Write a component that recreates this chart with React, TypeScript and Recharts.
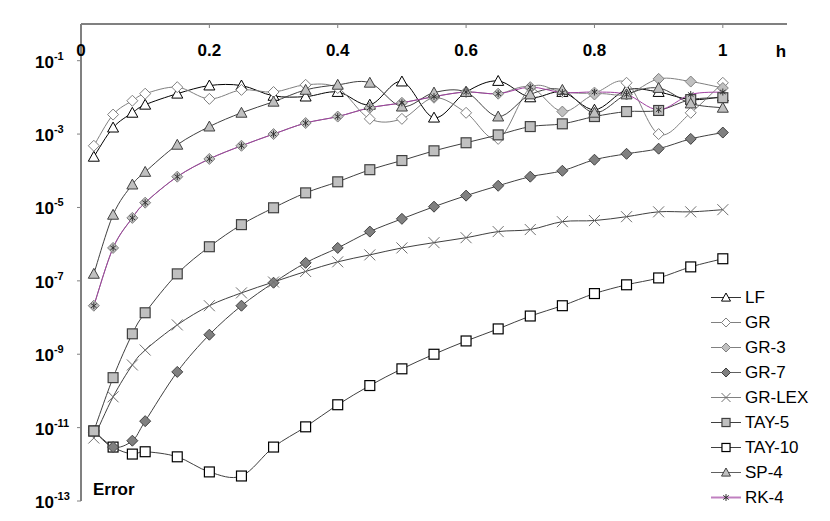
import { LineChart, Line, XAxis, YAxis, Legend } from "recharts"

const FONT = "'Liberation Sans', Arial, sans-serif"

// step sizes h
const hValues = [0.02, 0.05, 0.08, 0.1, 0.15, 0.2, 0.25, 0.3, 0.35, 0.4, 0.45, 0.5, 0.55, 0.6, 0.65, 0.7, 0.75, 0.8, 0.85, 0.9, 0.95, 1]

// error values per method
const lf = [2.4e-4, 1.5e-3, 3.8e-3, 6.3e-3, 1.26e-2, 2.1e-2, 2.1e-2, 1.1e-2, 1.05e-2, 1.4e-2, 6.3e-3, 2.7e-2, 2.8e-3, 1.4e-2, 2.8e-2, 1.0e-2, 1.4e-2, 4.6e-3, 1.6e-2, 1.4e-2, 8.7e-3, 1.05e-2]
const gr = [4.8e-4, 3.4e-3, 8.1e-3, 1.26e-2, 1.9e-2, 9.1e-3, 1.6e-2, 1.4e-2, 2.2e-2, 1.8e-2, 2.6e-3, 2.6e-3, 9.8e-3, 3.8e-3, 7.4e-4, 1.8e-2, 1.4e-2, 1.35e-2, 2.5e-2, 1.0e-3, 3.8e-3, 2.5e-2]
const gr3 = [2.1e-8, 7.9e-7, 5.2e-6, 1.35e-5, 6.9e-5, 2.1e-4, 4.8e-4, 1.0e-3, 2.0e-3, 3.0e-3, 5.2e-3, 7.1e-3, 1.05e-2, 1.4e-2, 1.26e-2, 1.9e-2, 4.1e-3, 1.2e-2, 1.2e-2, 3.2e-2, 2.7e-2, 1.8e-2]
const gr7 = [8.1e-12, 2.95e-12, 4.4e-12, 1.5e-11, 3.3e-10, 3.4e-9, 2.1e-8, 8.9e-8, 3.1e-7, 7.9e-7, 2.2e-6, 4.9e-6, 1.05e-5, 2.1e-5, 3.9e-5, 6.9e-5, 1.0e-4, 2.0e-4, 2.9e-4, 4.0e-4, 7.4e-4, 1.1e-3]
const grLex = [5.2e-12, 6.9e-11, 5.1e-10, 1.3e-9, 6.3e-9, 2.1e-8, 4.7e-8, 9.3e-8, 1.8e-7, 3.3e-7, 5.1e-7, 7.9e-7, 1.1e-6, 1.5e-6, 2.2e-6, 2.5e-6, 4.1e-6, 4.4e-6, 5.6e-6, 7.6e-6, 7.6e-6, 8.7e-6]
const tay5 = [8.1e-12, 2.3e-10, 3.6e-9, 1.35e-8, 1.55e-7, 8.5e-7, 3.4e-6, 9.8e-6, 2.5e-5, 5.0e-5, 1.07e-4, 1.9e-4, 3.5e-4, 5.8e-4, 9.5e-4, 1.6e-3, 1.9e-3, 3.0e-3, 4.1e-3, 4.4e-3, 8.7e-3, 9.8e-3]
const tay10 = [8.1e-12, 2.95e-12, 1.9e-12, 2.2e-12, 1.6e-12, 6.2e-13, 4.8e-13, 2.95e-12, 1.05e-11, 4.2e-11, 1.4e-10, 4.0e-10, 1.0e-9, 2.3e-9, 4.9e-9, 1.1e-8, 2.1e-8, 4.5e-8, 7.8e-8, 1.2e-7, 2.4e-7, 4.0e-7]
const sp4 = [1.55e-7, 6.3e-6, 4.2e-5, 9.3e-5, 5.1e-4, 1.6e-3, 3.8e-3, 7.6e-3, 1.6e-2, 2.2e-2, 2.5e-2, 5.6e-3, 1.35e-2, 1.4e-2, 3.0e-3, 1.2e-2, 1.6e-2, 3.8e-3, 1.2e-2, 1.8e-2, 6.8e-3, 5.2e-3]
const rk4 = [2.1e-8, 7.9e-7, 5.2e-6, 1.35e-5, 6.9e-5, 2.1e-4, 4.8e-4, 1.0e-3, 2.0e-3, 3.0e-3, 5.2e-3, 7.1e-3, 1.05e-2, 1.4e-2, 1.26e-2, 1.9e-2, 1.35e-2, 1.4e-2, 1.2e-2, 4.6e-3, 1.2e-2, 1.4e-2]

const xTicks = [0, 0.2, 0.4, 0.6, 0.8, 1]
const yTicks = [1e-13, 1e-11, 1e-9, 1e-7, 1e-5, 1e-3, 1e-1]

const data = hValues.map((h, i) => ({
  h,
  lf: lf[i],
  gr: gr[i],
  gr3: gr3[i],
  gr7: gr7[i],
  grLex: grLex[i],
  tay5: tay5[i],
  tay10: tay10[i],
  sp4: sp4[i],
  rk4: rk4[i],
}))

// legend order
const series = [
  { key: "lf", name: "LF", color: "#000000", legendColor: "#333", shape: "triangle", fill: "#ffffff", stroke: "#000000" },
  { key: "gr", name: "GR", color: "#808080", legendColor: "#808080", shape: "diamond", fill: "#ffffff", stroke: "#808080" },
  { key: "gr3", name: "GR-3", color: "#808080", legendColor: "#808080", shape: "diamond", fill: "#c0c0c0", stroke: "#808080" },
  { key: "gr7", name: "GR-7", color: "#404040", legendColor: "#606060", shape: "diamond", fill: "#808080", stroke: "#404040" },
  { key: "grLex", name: "GR-LEX", color: "#404040", legendColor: "#808080", shape: "x", fill: "none", stroke: "#707070" },
  { key: "tay5", name: "TAY-5", color: "#404040", legendColor: "#404040", shape: "square", fill: "#c0c0c0", stroke: "#404040" },
  { key: "tay10", name: "TAY-10", color: "#404040", legendColor: "#404040", shape: "square", fill: "#ffffff", stroke: "#000000" },
  { key: "sp4", name: "SP-4", color: "#404040", legendColor: "#606060", shape: "triangle", fill: "#c0c0c0", stroke: "#404040" },
  { key: "rk4", name: "RK-4", color: "#a040a0", legendColor: "#c080c0", shape: "star", fill: "none", stroke: "#333333" },
]

// plot order (TAY-10 sits underneath the others where they meet)
const drawOrder = ["tay10", "lf", "gr", "gr3", "gr7", "grLex", "tay5", "sp4", "rk4"]

// Excel-like smoothed line (catmull-rom through the points)
function excelSmooth(context: any) {
  let pts: number[][] = []
  return {
    areaStart() {},
    areaEnd() {},
    lineStart() {
      pts = []
    },
    point(x: number, y: number) {
      pts.push([+x, +y])
    },
    lineEnd() {
      if (!pts.length) return
      context.moveTo(pts[0][0], pts[0][1])
      const t = 1 / 6
      for (let i = 0; i < pts.length - 1; i++) {
        const p0 = pts[i - 1] || pts[i]
        const p1 = pts[i]
        const p2 = pts[i + 1]
        const p3 = pts[i + 2] || p2
        context.bezierCurveTo(
          p1[0] + (p2[0] - p0[0]) * t,
          p1[1] + (p2[1] - p0[1]) * t,
          p2[0] - (p3[0] - p1[0]) * t,
          p2[1] - (p3[1] - p1[1]) * t,
          p2[0],
          p2[1]
        )
      }
    },
  }
}

function Marker({ shape, cx, cy, fill, stroke, r }: any) {
  if (cx == null || cy == null) return null
  if (shape === "triangle") {
    return (
      <polygon
        points={`${cx},${cy - r} ${cx - r},${cy + r * 0.8} ${cx + r},${cy + r * 0.8}`}
        fill={fill}
        stroke={stroke}
        strokeWidth={1}
      />
    )
  }
  if (shape === "diamond") {
    return (
      <polygon
        points={`${cx},${cy - r} ${cx + r},${cy} ${cx},${cy + r} ${cx - r},${cy}`}
        fill={fill}
        stroke={stroke}
        strokeWidth={1}
      />
    )
  }
  if (shape === "square") {
    const s = r * 0.9
    return <rect x={cx - s} y={cy - s} width={s * 2} height={s * 2} fill={fill} stroke={stroke} strokeWidth={1.2} />
  }
  if (shape === "x") {
    return (
      <g stroke={stroke} strokeWidth={1}>
        <line x1={cx - r} y1={cy - r} x2={cx + r} y2={cy + r} />
        <line x1={cx - r} y1={cy + r} x2={cx + r} y2={cy - r} />
      </g>
    )
  }
  // asterisk
  const a = r * 0.7
  return (
    <g stroke={stroke} strokeWidth={1}>
      <line x1={cx} y1={cy - a} x2={cx} y2={cy + a} />
      <line x1={cx - a * 0.8} y1={cy - a * 0.6} x2={cx + a * 0.8} y2={cy + a * 0.6} />
      <line x1={cx - a * 0.8} y1={cy + a * 0.6} x2={cx + a * 0.8} y2={cy - a * 0.6} />
    </g>
  )
}

const XTick = ({ x, payload }: any) => (
  <g>
    <line x1={x} x2={x} y1={24} y2={28} stroke="#808080" />
    <text x={x} y={56} textAnchor="middle" fontFamily={FONT} fontSize={17} fontWeight="bold" fill="#000">
      {String(payload.value)}
    </text>
  </g>
)

const YTick = ({ y, payload }: any) => {
  const exp = Math.round(Math.log10(payload.value))
  return (
    <text x={35} y={y + 7} fontFamily={FONT} fontSize={17} fontWeight="bold" fill="#000">
      10
      <tspan fontSize={11} dy={-8}>
        {exp}
      </tspan>
    </text>
  )
}

const LegendContent = () => (
  <div style={{ fontFamily: FONT, fontSize: 17, color: "#000" }}>
    {series.map((s) => (
      <div key={s.key} style={{ display: "flex", alignItems: "center", height: 25 }}>
        <svg width={32} height={25}>
          <line x1={0} x2={30} y1={12.5} y2={12.5} stroke={s.legendColor} strokeWidth={s.key === "rk4" ? 2 : 1} />
          <Marker shape={s.shape} cx={15} cy={12.5} fill={s.fill} stroke={s.stroke} r={s.shape === "star" ? 5 : 4.5} />
        </svg>
        <span style={{ marginLeft: 2 }}>{s.name}</span>
      </div>
    ))}
  </div>
)

export default function App() {
  return (
    <div style={{ position: "absolute", left: 0, top: 0, width: 830, height: 521, background: "#fff" }}>
      <LineChart width={830} height={521} data={data} margin={{ top: 0, right: 43, bottom: 20, left: 0 }}>
        <XAxis
          dataKey="h"
          type="number"
          orientation="top"
          domain={[0, 1.1]}
          ticks={xTicks}
          height={24}
          axisLine={{ stroke: "#808080", strokeWidth: 2 }}
          tickLine={false}
          tick={XTick}
          allowDataOverflow
        />
        <YAxis
          type="number"
          scale="log"
          domain={[1e-13, 1]}
          ticks={yTicks}
          width={81}
          axisLine={{ stroke: "#808080", strokeWidth: 2 }}
          tickLine={{ stroke: "#808080" }}
          tickSize={4}
          tick={YTick}
          allowDataOverflow
        />
        <Legend
          layout="vertical"
          align="center"
          verticalAlign="middle"
          wrapperStyle={{ left: 711, top: 285, width: 115 }}
          content={LegendContent}
        />
        {drawOrder.map((k) => {
          const s = series.find((d) => d.key === k)!
          return (
            <Line
              key={s.key}
              dataKey={s.key}
              name={s.name}
              type={excelSmooth as any}
              stroke={s.color}
              strokeWidth={1}
              isAnimationActive={false}
              activeDot={false}
              dot={(p: any) => (
                <Marker
                  key={`${s.key}-${p.index}`}
                  shape={s.shape}
                  cx={p.cx}
                  cy={p.cy}
                  fill={s.fill}
                  stroke={s.stroke}
                  r={s.shape === "star" ? 5 : 5.5}
                />
              )}
            />
          )
        })}
      </LineChart>
      <svg width={830} height={521} style={{ position: "absolute", left: 0, top: 0, pointerEvents: "none" }}>
        <text x={781} y={57} textAnchor="middle" fontFamily={FONT} fontSize={17} fontWeight="bold">
          h
        </text>
        <text x={93} y={495} fontFamily={FONT} fontSize={17} fontWeight="bold">
          Error
        </text>
      </svg>
    </div>
  )
}
